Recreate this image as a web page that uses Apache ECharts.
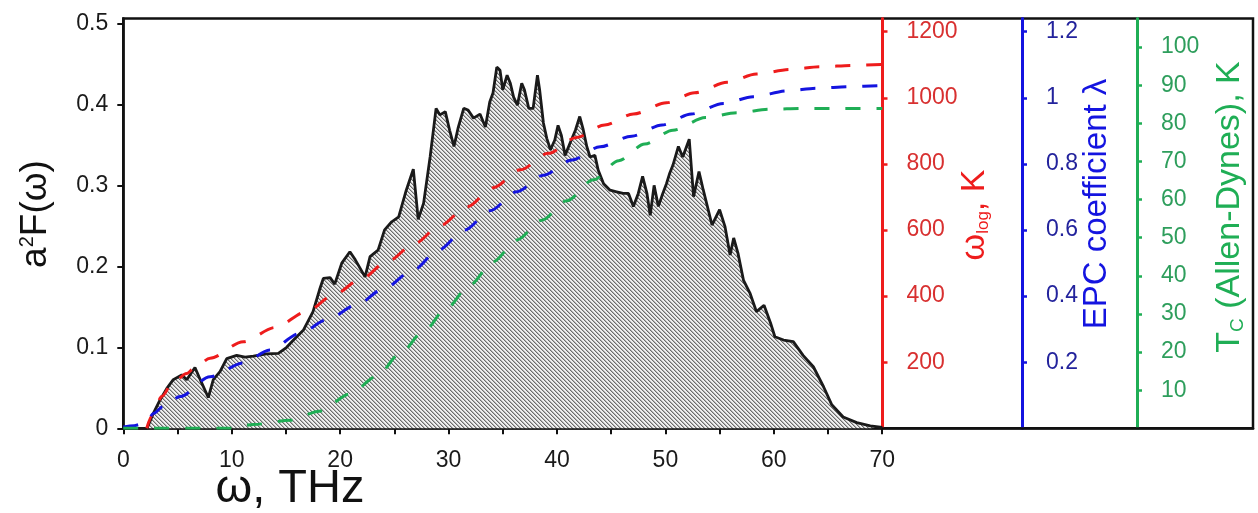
<!DOCTYPE html>
<html><head><meta charset="utf-8">
<script src="https://cdn.jsdelivr.net/npm/echarts@6/dist/echarts.min.js"></script>
<style>html,body{margin:0;padding:0;background:#fff}#c{width:1258px;height:513px}</style>
</head><body><div id="c"></div>
<script>
// ---- data ----
const freq = [0,2.2,2.77,3.39,4.0,4.61,5.39,5.85,6.61,7.23,7.84,8.3,8.92,9.54,10.46,11.23,12.0,13.2,14.3,15.07,15.7,16.6,17.5,18.1,18.45,19.07,19.5,20.15,20.9,21.4,22.3,22.76,23.5,24.1,24.76,25.4,26.1,26.75,27.2,27.7,28.3,28.85,29.2,29.7,30.1,30.5,30.9,31.4,31.8,32.3,32.9,33.4,33.8,34.1,34.45,34.75,35.0,35.4,35.7,36.0,36.35,36.75,37.0,37.4,37.8,38.2,38.4,38.75,39.06,39.4,39.8,40.1,40.4,40.75,41.2,41.7,42.1,42.4,42.75,43.05,43.5,43.8,44.3,44.9,45.5,46.1,46.6,47.05,47.5,47.9,48.3,48.6,48.96,49.35,49.76,50.1,50.4,50.7,51.2,51.6,52.2,52.6,53.1,53.5,54.3,55.0,55.5,55.97,56.3,56.7,57.2,57.8,58.4,59.1,59.7,60.1,60.9,61.8,62.7,63.65,64.6,65.35,66.4,67.65,68.9,70];
const a2F = [0,0,0.0185,0.035,0.049,0.06,0.066,0.06,0.075,0.056,0.038,0.06,0.07,0.086,0.09,0.088,0.089,0.092,0.0926,0.1,0.109,0.121,0.144,0.171,0.185,0.186,0.178,0.204,0.218,0.208,0.187,0.212,0.22,0.245,0.255,0.261,0.294,0.32,0.258,0.278,0.335,0.395,0.387,0.391,0.368,0.348,0.372,0.395,0.393,0.383,0.388,0.372,0.403,0.414,0.446,0.442,0.418,0.436,0.426,0.409,0.399,0.426,0.418,0.395,0.395,0.436,0.418,0.377,0.358,0.344,0.356,0.374,0.362,0.337,0.352,0.368,0.385,0.370,0.348,0.335,0.337,0.319,0.302,0.294,0.292,0.290,0.290,0.274,0.290,0.311,0.290,0.263,0.300,0.274,0.290,0.302,0.315,0.325,0.348,0.335,0.357,0.286,0.317,0.294,0.251,0.270,0.249,0.214,0.235,0.216,0.183,0.167,0.144,0.152,0.130,0.113,0.109,0.107,0.090,0.076,0.051,0.029,0.014,0.007,0.003,0.001];

const wlogFreq = [2.16,2.7,3.54,4.5,5.85,6.6,8.0,11.07,14.0,16.9,19.4,21.8,24.45,26.9,29.2,31.7,34.1,36.6,39.2,41.8,44.4,47.05,50.1,52.7,55.7,58.4,61.5,64.3,67.3,70];
const wlogK    = [0,40,96,135,166,184,212,262,305,353,403,449,507,560,613,670,728,782,832,880,918,951,985,1015,1047,1072,1086,1094,1098,1101];

const lambdaFreq = [0,1.0,1.6,2.2,2.77,3.69,5.23,8.0,11.07,13.5,16.3,18.76,21.5,24.0,26.75,29.06,31.5,33.8,36.3,38.75,41.4,43.98,46.9,49.7,52.4,55.35,58.1,61.2,63.97,67.0,70];
const lambdaVal  = [0.004,0.008,0.012,0.022,0.045,0.066,0.096,0.156,0.198,0.237,0.287,0.328,0.373,0.422,0.479,0.539,0.600,0.658,0.716,0.766,0.812,0.852,0.884,0.918,0.951,0.983,1.003,1.021,1.029,1.034,1.037];

const tcFreq = [0,10,12.0,15.4,18.1,20.9,23.4,25.5,27.7,29.8,32.0,34.1,36.3,38.6,40.9,43.36,45.7,48.1,50.7,53.7,56.6,59.7,62.7,65.8,70];
const tcVal  = [0,0,1.0,2.1,4.5,9.0,13.7,19.5,25.4,31.5,37.7,43.7,49.4,54.6,59.7,65.2,70.2,74.6,78.2,81.5,82.8,83.7,83.9,83.9,83.9];

const xLabels = [0,10,20,30,40,50,60,70];
const xTicks = [0,5,10,15,20,25,30,35,40,45,50,55,60,65,70];
const yLabels = [0,0.1,0.2,0.3,0.4,0.5];
const wlogLabels = [200,400,600,800,1000,1200];
const lambdaLabels = [0.2,0.4,0.6,0.8,1,1.2];
const tcLabels = [10,20,30,40,50,60,70,80,90,100];

// ---- chart ----
function hatch(){
  const c=document.createElement('canvas'); c.width=4; c.height=4;
  const g=c.getContext('2d');
  g.fillStyle='#efefef'; g.fillRect(0,0,4,4);
  for(let i=0;i<4;i++){
    g.fillStyle='#6c6c6c'; g.fillRect(i,i,1,1);
    g.fillStyle='#b4b4b4'; g.fillRect((i+1)%4,i,1,1);
  }
  return c;
}
const zip=(a,b)=>a.map((v,i)=>[v,b[i]]);
const FONT='Liberation Sans, Arial, sans-serif';
const RED='#ee1c1c', BLUE='#1414e0', GREEN='#1fae55';

function rightAxis(offset,max,labels,color,labelColor,fmt){
  return {type:'value',position:'right',offset:offset,min:0,max:max,
    axisLine:{show:true,lineStyle:{color:color,width:3}},
    axisTick:{show:true,inside:false,length:5,customValues:labels,lineStyle:{color:color,width:2.5}},
    axisLabel:{customValues:labels,color:labelColor,fontSize:23,fontFamily:FONT,margin:24,formatter:fmt},
    splitLine:{show:false}};
}

const chart=echarts.init(document.getElementById('c'),null,{renderer:'canvas'});
chart.setOption({
  animation:false,
  backgroundColor:'#fff',
  grid:{left:123.3,right:5,top:18.5,bottom:84.7,show:true,borderColor:'#111',borderWidth:2.5,backgroundColor:'transparent'},
  xAxis:{type:'value',min:0,max:104.2,
    axisLine:{lineStyle:{color:'#111',width:2.5}},
    axisTick:{show:true,length:6,customValues:xTicks,lineStyle:{color:'#111',width:2}},
    axisLabel:{customValues:xLabels,color:'#1a1a1a',fontSize:23,fontFamily:FONT,margin:21},
    splitLine:{show:false}},
  yAxis:[
    {type:'value',min:0,max:0.506,position:'left',
      axisLine:{show:true,lineStyle:{color:'#111',width:2.5}},
      axisTick:{show:true,length:6,customValues:yLabels,lineStyle:{color:'#111',width:2}},
      axisLabel:{customValues:yLabels,color:'#1a1a1a',fontSize:23,fontFamily:FONT,margin:15,
        formatter:v=>v===0?'0':v.toFixed(1)},
      splitLine:{show:false}},
    rightAxis(-370.5,1240,wlogLabels,RED,'#d83030',v=>String(v)),
    rightAxis(-231,1.24,lambdaLabels,BLUE,'#23239c',v=>v===1?'1':v.toFixed(1)),
    rightAxis(-116,107.5,tcLabels,GREEN,'#2e9e5c',v=>String(v))
  ],
  series:[
    {type:'line',xAxisIndex:0,yAxisIndex:0,data:zip(freq,a2F),symbol:'none',z:2,
      lineStyle:{color:'#1a1a1a',width:2.8},
      areaStyle:{color:{image:hatch(),repeat:'repeat'},opacity:1}},
    {type:'line',yAxisIndex:1,data:zip(wlogFreq,wlogK),symbol:'none',z:4,smooth:0.3,smoothMonotone:'x',
      lineStyle:{color:RED,width:3,type:[15,16]}},
    {type:'line',yAxisIndex:2,data:zip(lambdaFreq,lambdaVal),symbol:'none',z:4,smooth:0.3,smoothMonotone:'x',
      lineStyle:{color:BLUE,width:3,type:[15,16]}},
    {type:'line',yAxisIndex:3,data:zip(tcFreq,tcVal),symbol:'none',z:4,smooth:0.3,smoothMonotone:'x',
      lineStyle:{color:GREEN,width:3,type:[15,16]}}
  ],
  graphic:[
    {type:'text',x:36,y:214,rotation:Math.PI/2,style:{text:'{m|a}{s|2}{m|F(ω)}',align:'center',verticalAlign:'middle',fill:'#111',
      rich:{m:{fontSize:37,fontFamily:FONT,fill:'#111'},s:{fontSize:20,fontFamily:FONT,verticalAlign:'top',fill:'#111'}}}},
    {type:'text',x:290,y:489,style:{text:'ω, THz',align:'center',verticalAlign:'middle',fill:'#111',fontSize:47,fontFamily:FONT}},
    {type:'text',x:975,y:215,rotation:Math.PI/2,style:{text:'{m|ω}{s|log}{m|, K}',align:'center',verticalAlign:'middle',fill:RED,
      rich:{m:{fontSize:34,fontFamily:FONT,fill:RED},s:{fontSize:17,fontFamily:FONT,verticalAlign:'bottom',fill:RED}}}},
    {type:'text',x:1097,y:204,rotation:Math.PI/2,style:{text:'EPC coefficient λ',align:'center',verticalAlign:'middle',fill:BLUE,fontSize:33,fontFamily:FONT}},
    {type:'text',x:1230,y:207,rotation:Math.PI/2,style:{text:'{m|T}{s|C}{m| (Allen-Dynes), K}',align:'center',verticalAlign:'middle',fill:GREEN,
      rich:{m:{fontSize:34,fontFamily:FONT,fill:GREEN},s:{fontSize:19,fontFamily:FONT,verticalAlign:'bottom',fill:GREEN}}}}
  ]
});
</script></body></html>
